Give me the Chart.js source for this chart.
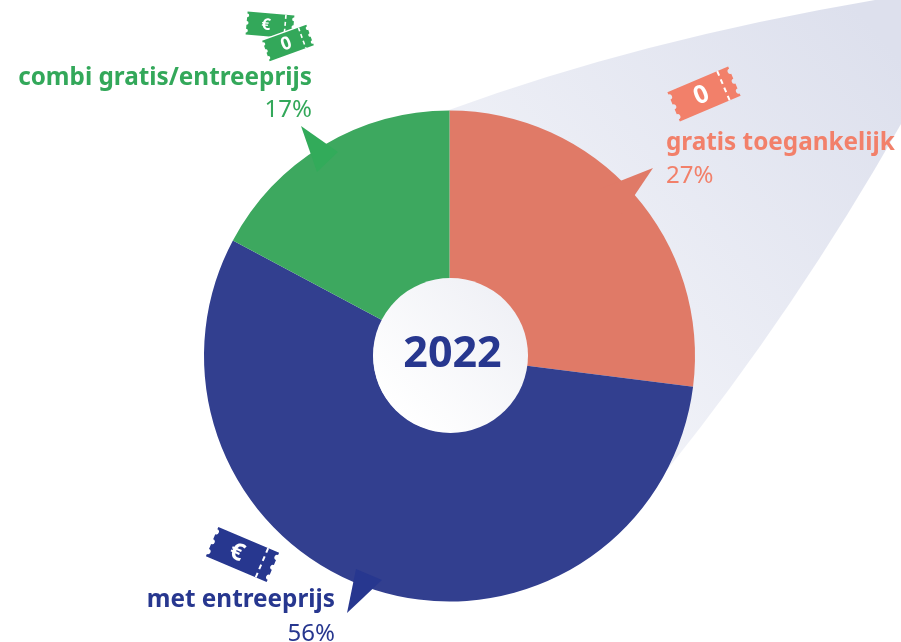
<!DOCTYPE html>
<html>
<head>
<meta charset="utf-8">
<style>
  html, body { margin: 0; padding: 0; background: #fff; overflow: hidden; }
  canvas { display: block; }
</style>
</head>
<body>
<canvas id="chart" width="901" height="642"></canvas>
<script src="https://cdn.jsdelivr.net/npm/chart.js@4/dist/chart.umd.min.js"></script>
<script>
const yearLabel = '2022';
const categories = ['gratis toegankelijk', 'met entreeprijs', 'combi gratis/entreeprijs'];
const shares = [27, 55.8, 17.2];
const shareLabels = ['27%', '56%', '17%'];
const sliceColors = ['#e07a67', '#323f8f', '#3da85f'];
const FONT = '"Noto Sans", sans-serif';

// ticket outline with scalloped short ends, centred on 0,0
function ticketPath(ctx, w, h) {
    const bumps = 3, r = h / (bumps * 2) * 0.5, step = h / bumps;
    ctx.beginPath();
    ctx.moveTo(-w / 2, -h / 2);
    ctx.lineTo(w / 2, -h / 2);
    for (let i = 0; i < bumps; i++) {
        const y = -h / 2 + step * i;
        ctx.lineTo(w / 2, y + step / 2 - r);
        ctx.arc(w / 2, y + step / 2, r, -Math.PI / 2, Math.PI / 2, true);
        ctx.lineTo(w / 2, y + step);
    }
    ctx.lineTo(-w / 2, h / 2);
    for (let i = bumps - 1; i >= 0; i--) {
        const y = -h / 2 + step * i;
        ctx.lineTo(-w / 2, y + step / 2 + r);
        ctx.arc(-w / 2, y + step / 2, r, Math.PI / 2, -Math.PI / 2, true);
        ctx.lineTo(-w / 2, y);
    }
    ctx.closePath();
}

function drawTicket(ctx, t) {
    ctx.save();
    ctx.translate(t.x, t.y);
    ctx.rotate(t.angle * Math.PI / 180);
    if (t.outline) {
        ticketPath(ctx, t.w, t.h);
        ctx.strokeStyle = '#fff';
        ctx.lineWidth = 2.5;
        ctx.stroke();
    }
    ticketPath(ctx, t.w, t.h);
    ctx.fillStyle = t.color;
    ctx.fill();
    ctx.strokeStyle = '#fff';
    ctx.lineWidth = t.w > 55 ? 2 : 1.6;
    ctx.setLineDash(t.w > 55 ? [5, 4] : [4, 3]);
    ctx.beginPath();
    ctx.moveTo(t.w * 0.32, -t.h / 2);
    ctx.lineTo(t.w * 0.32, t.h / 2);
    ctx.stroke();
    ctx.setLineDash([]);
    ctx.fillStyle = '#fff';
    ctx.font = 'bold ' + t.size + 'px ' + FONT;
    ctx.textAlign = 'center';
    ctx.textBaseline = 'middle';
    ctx.fillText(t.glyph, t.shift, 0.5);
    ctx.restore();
}

function triangle(ctx, pts, color) {
    ctx.beginPath();
    ctx.moveTo(pts[0], pts[1]);
    ctx.lineTo(pts[2], pts[3]);
    ctx.lineTo(pts[4], pts[5]);
    ctx.closePath();
    ctx.fillStyle = color;
    ctx.fill();
}

const beamPlugin = {
    id: 'beam',
    beforeDatasetsDraw(chart) {
        const ctx = chart.ctx;
        const g = ctx.createLinearGradient(470, 430, 901, 60);
        g.addColorStop(0, '#f6f7fb');
        g.addColorStop(1, '#dde0ed');
        ctx.save();
        ctx.beginPath();
        ctx.moveTo(449, 110);
        ctx.quadraticCurveTo(640, 40, 875, 0);
        ctx.lineTo(901, 0);
        ctx.lineTo(901, 124);
        ctx.quadraticCurveTo(796, 309, 667, 470);
        ctx.lineTo(449, 356);
        ctx.closePath();
        ctx.fillStyle = g;
        ctx.fill();
        ctx.restore();
    }
};

const overlayPlugin = {
    id: 'overlay',
    afterDatasetsDraw(chart) {
        const ctx = chart.ctx;
        ctx.save();

        // centre disc
        const g = ctx.createLinearGradient(395, 410, 505, 300);
        g.addColorStop(0, '#ffffff');
        g.addColorStop(1, '#f0f1f6');
        ctx.beginPath();
        ctx.arc(450.5, 355.5, 77.5, 0, Math.PI * 2);
        ctx.fillStyle = g;
        ctx.fill();
        ctx.fillStyle = '#27378f';
        ctx.font = 'bold 43px ' + FONT;
        ctx.textAlign = 'center';
        ctx.textBaseline = 'alphabetic';
        ctx.fillText(yearLabel, 452.5, 367);

        // callout pointers
        triangle(ctx, [653, 168, 600, 189, 622, 214], '#e07a67');
        triangle(ctx, [301, 126, 338, 152, 317, 172], '#32ab5a');
        triangle(ctx, [347, 613, 356, 569, 382, 580], '#27378f');

        // tickets
        drawTicket(ctx, { x: 704, y: 94, w: 66, h: 32, angle: -23, color: '#f2806a', glyph: '0', size: 25, shift: -3 });
        drawTicket(ctx, { x: 242.5, y: 554.5, w: 66, h: 32, angle: 23, color: '#27378f', glyph: '€', size: 24, shift: -6 });
        drawTicket(ctx, { x: 270, y: 25, w: 47, h: 23, angle: 5, color: '#33a85a', glyph: '€', size: 16, shift: -4 });
        drawTicket(ctx, { x: 288, y: 43, w: 47, h: 22, angle: -20, color: '#33a85a', glyph: '0', size: 18, shift: -2, outline: true });

        // labels
        ctx.textBaseline = 'alphabetic';
        ctx.font = 'bold 24.3px ' + FONT;
        ctx.textAlign = 'left';
        ctx.fillStyle = '#f2806a';
        ctx.fillText(categories[0], 666, 150);
        ctx.textAlign = 'right';
        ctx.fillStyle = '#27378f';
        ctx.fillText(categories[1], 335, 607);
        ctx.fillStyle = '#33a85a';
        ctx.fillText(categories[2], 312, 85);

        ctx.font = '24px ' + FONT;
        ctx.textAlign = 'left';
        ctx.fillStyle = '#f2806a';
        ctx.fillText(shareLabels[0], 666, 183);
        ctx.textAlign = 'right';
        ctx.fillStyle = '#27378f';
        ctx.fillText(shareLabels[1], 335, 641);
        ctx.fillStyle = '#33a85a';
        ctx.fillText(shareLabels[2], 312, 117);
        ctx.restore();
    }
};

new Chart(document.getElementById('chart').getContext('2d'), {
    type: 'doughnut',
    data: {
        labels: categories,
        datasets: [{ data: shares, backgroundColor: sliceColors, borderWidth: 0 }]
    },
    options: {
        responsive: false,
        animation: false,
        cutout: '31%',
        layout: { padding: { left: 204, right: 206, top: 110, bottom: 40 } },
        plugins: { legend: { display: false }, tooltip: { enabled: false } }
    },
    plugins: [beamPlugin, overlayPlugin]
});
</script>
</body>
</html>
